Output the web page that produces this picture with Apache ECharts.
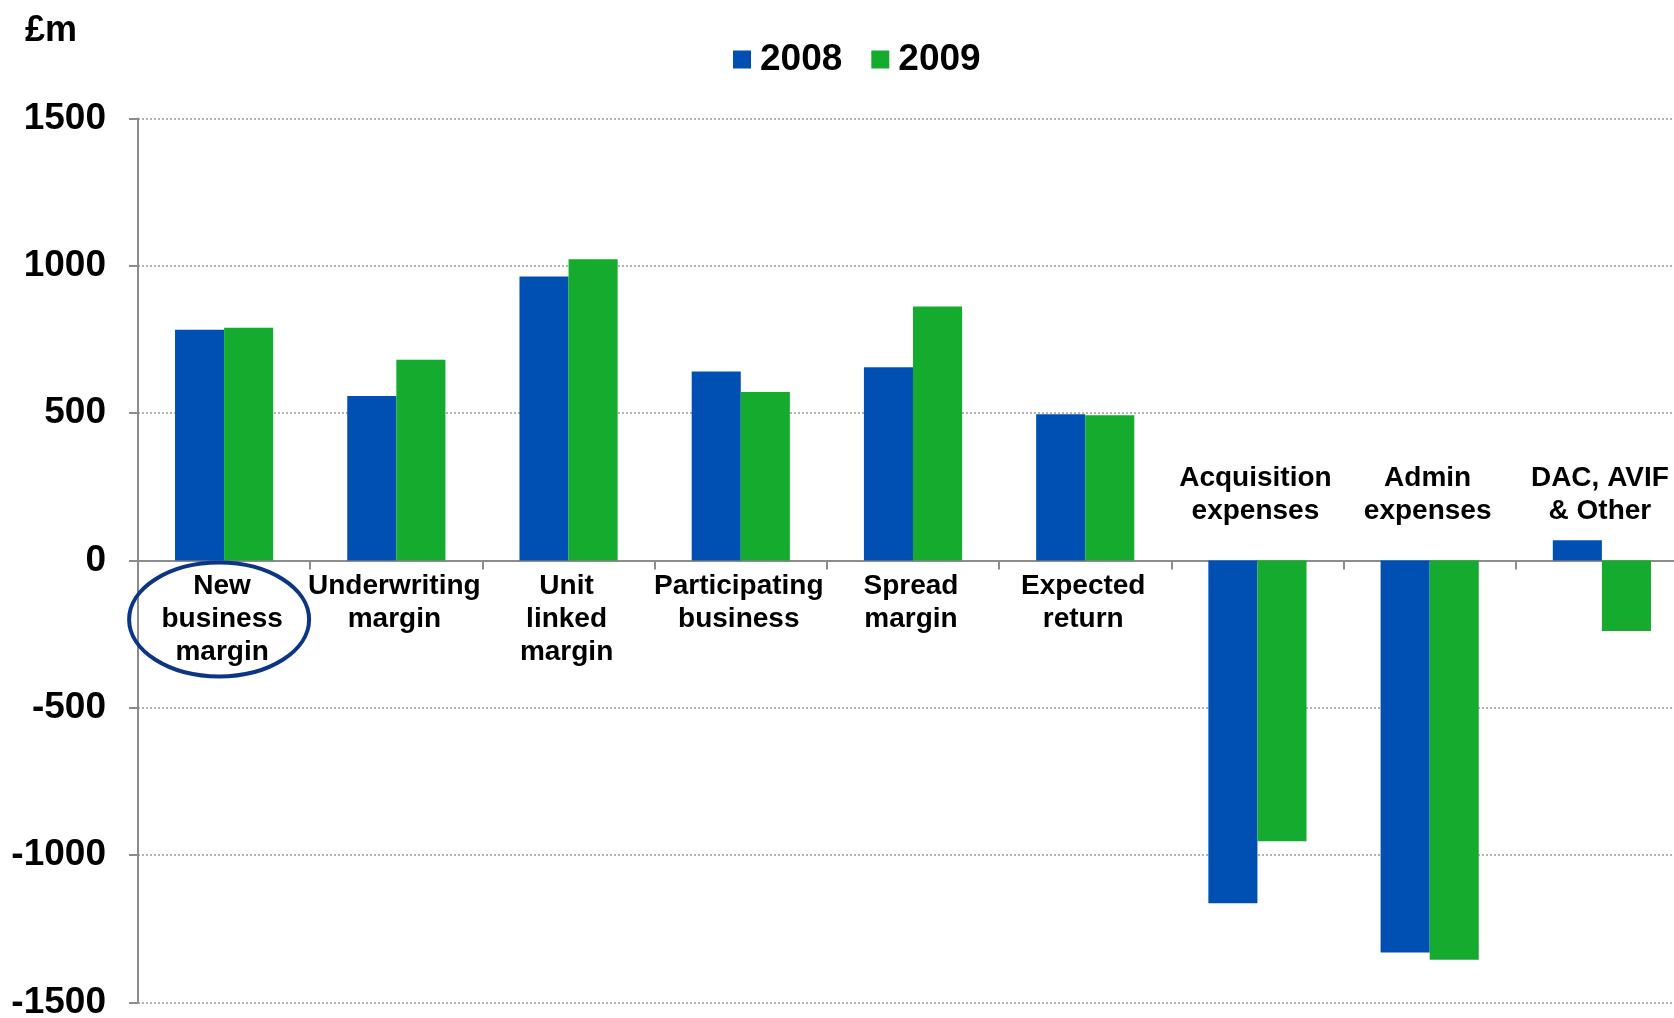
<!DOCTYPE html>
<html>
<head>
<meta charset="utf-8">
<script src="https://cdn.jsdelivr.net/npm/echarts@6/dist/echarts.min.js"></script>
<style>html,body{margin:0;padding:0;background:#fff}#c{width:1674px;height:1018px}</style>
</head>
<body>
<div id="c"></div>
<script>
const categories = ["New\nbusiness\nmargin","Underwriting\nmargin","Unit\nlinked\nmargin","Participating\nbusiness","Spread\nmargin","Expected\nreturn","Acquisition\nexpenses","Admin\nexpenses","DAC, AVIF\n& Other"];
const seriesNames = ["2008","2009"];
const values2008 = [783, 558, 964, 641, 656, 496, -1163, -1330, 69];
const values2009 = [790, 681, 1022, 572, 862, 493, -953, -1355, -239];
const labelAboveIdx = [6, 7, 8];
const yTicks = [-1500, -1000, -500, 0, 500, 1000, 1500];
const unitLabel = "£m";

const FONT = "'Liberation Sans', Arial, sans-serif";
const BLUE = "#0050b4";
const GREEN = "#14ab2e";

const labelStyle = {fontFamily: FONT, fontSize: 28, fontWeight: 'bold', color: '#000', lineHeight: 33, align: 'center', opacity: 1, textBorderWidth: 0, offset: [-2, 0]};

const chart = echarts.init(document.getElementById('c'));
const option = {
  animation: false,
  backgroundColor: '#fff',
  title: {text: unitLabel, left: 20, top: 8, textStyle: {fontFamily: FONT, fontSize: 36, fontWeight: 'bold', color: '#000'}},
  legend: {
    data: seriesNames, top: 36, left: 728, itemWidth: 18, itemHeight: 18, itemGap: 29,
    icon: 'rect',
    textStyle: {fontFamily: FONT, fontSize: 37, fontWeight: 'bold', color: '#000', padding: [0,0,0,4]}
  },
  grid: {left: 138, right: -14, top: 118.5, bottom: 15.5, containLabel: false, outerBoundsMode: 'none'},
  xAxis: {
    type: 'category', data: categories,
    axisLine: {onZero: true, lineStyle: {color: '#8c8c8c', width: 2}},
    axisTick: {show: true, length: 9, inside: false, lineStyle: {color: '#8c8c8c', width: 2}},
    axisLabel: {show: false},
    splitLine: {show: false}
  },
  yAxis: {
    type: 'value', min: yTicks[0], max: yTicks[yTicks.length-1], interval: 500,
    axisLine: {show: true, lineStyle: {color: '#8c8c8c', width: 2}},
    axisTick: {show: true, length: 9, lineStyle: {color: '#8c8c8c', width: 2}},
    axisLabel: {margin: 32, fontFamily: FONT, fontSize: 37, fontWeight: 'bold', color: '#000', formatter: v => String(v)},
    splitLine: {show: true, lineStyle: {color: '#999', width: 1.5, type: [2, 2]}}
  },
  series: [
    {name: seriesNames[0], type: 'bar', data: values2008, itemStyle: {color: BLUE}, barGap: '0%', barCategoryGap: '43%'},
    {name: seriesNames[1], type: 'bar', data: values2009, itemStyle: {color: GREEN}, barGap: '0%', barCategoryGap: '43%'},
    {
      name: 'labelsBelow', type: 'scatter', symbolSize: 0, silent: true, z: 20,
      itemStyle: {opacity: 1},
      data: categories.map((c, i) => i).filter(i => labelAboveIdx.indexOf(i) < 0).map(i => [i, 0]),
      label: Object.assign({show: true, position: 'bottom', distance: 9, formatter: p => categories[p.data[0]]}, labelStyle)
    },
    {
      name: 'labelsAbove', type: 'scatter', symbolSize: 0, silent: true, z: 20,
      itemStyle: {opacity: 1},
      data: labelAboveIdx.map(i => [i, 0]),
      label: Object.assign({show: true, position: 'top', distance: 33, formatter: p => categories[p.data[0]]}, labelStyle)
    }
  ]
};
chart.setOption(option);
const c0 = chart.convertToPixel({xAxisIndex: 0, yAxisIndex: 0}, [0, 0]);
chart.setOption({
  graphic: [{
    type: 'ellipse', shape: {cx: c0[0] - 5, cy: c0[1] + 59, rx: 90, ry: 57},
    style: {fill: 'none', stroke: '#0d3585', lineWidth: 4}, z: 100
  }]
});
</script>
</body>
</html>
